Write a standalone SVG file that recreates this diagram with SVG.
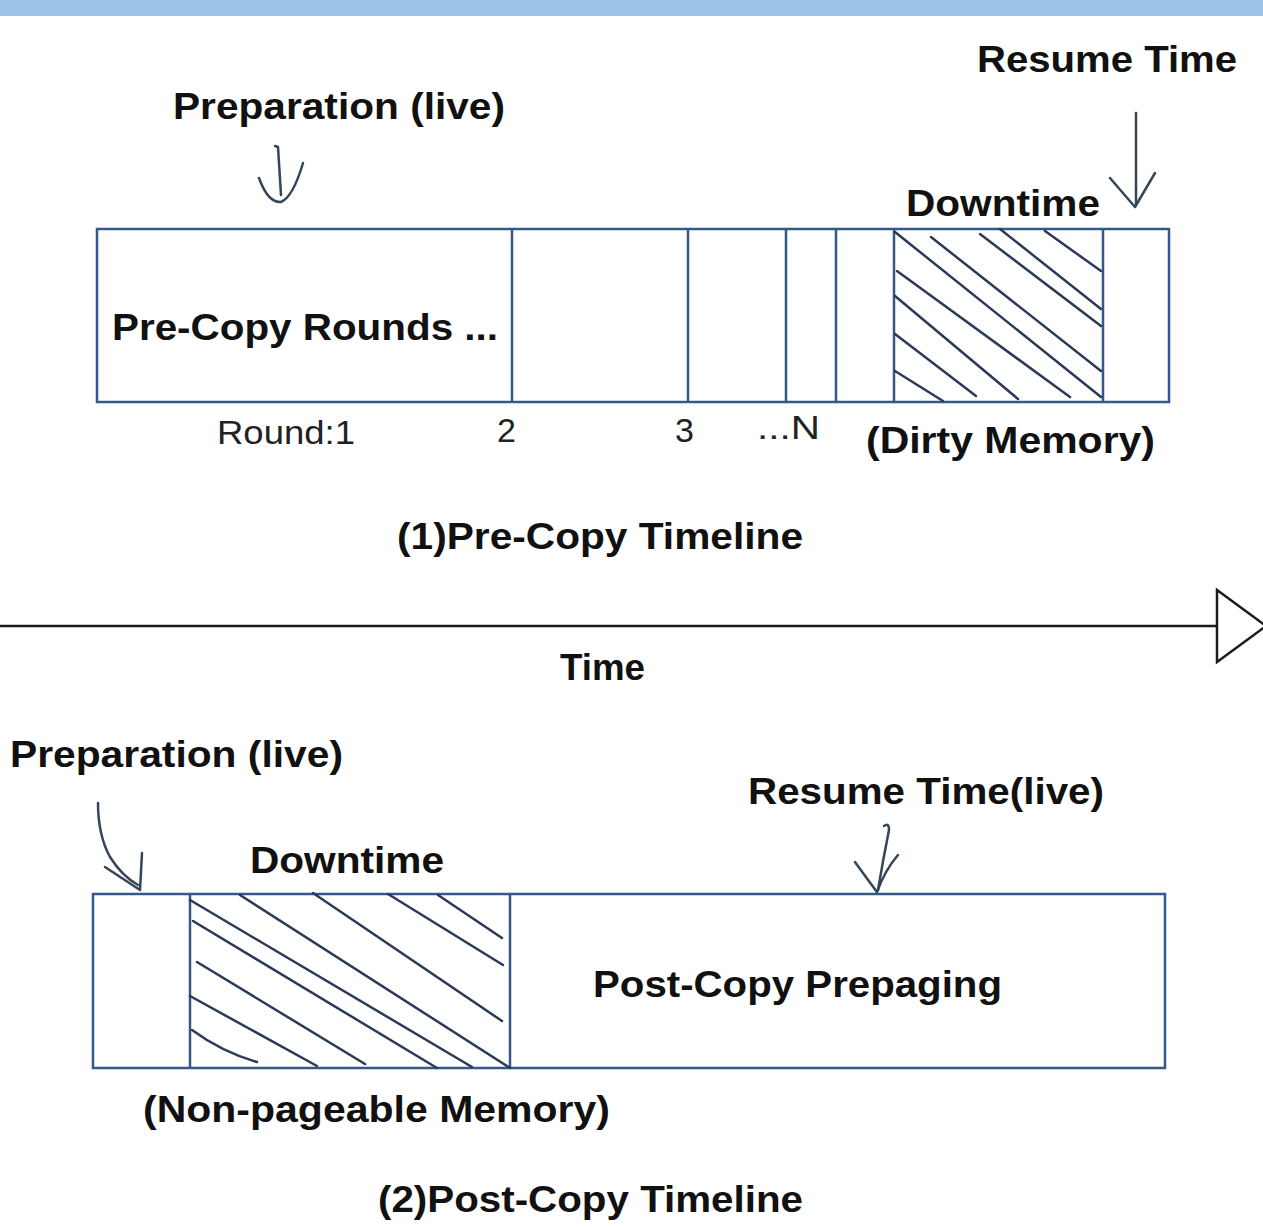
<svg xmlns="http://www.w3.org/2000/svg" width="1263" height="1228" viewBox="0 0 1263 1228">
  <style>
    .lbl { font-family: "Liberation Sans", Arial, sans-serif; font-weight: bold; font-size: 36px; fill: #111; }
    .num { font-family: "Liberation Sans", Arial, sans-serif; font-size: 34px; fill: #222; }
    .box { fill: #fff; stroke: #36578c; stroke-width: 2.5; }
    .div { stroke: #36578c; stroke-width: 2.5; fill: none; }
    .hatch { stroke: #2b3b57; stroke-width: 2.5; fill: none; stroke-linecap: round; }
    .pen { stroke: #35455a; stroke-width: 2.5; fill: none; stroke-linecap: round; stroke-linejoin: round; }
    .axis { stroke: #1c1c1c; stroke-width: 2.5; fill: none; }
  </style>

  <rect width="1263" height="1228" fill="#fff"/>
  <!-- header band -->
  <rect x="0" y="0" width="1263" height="16" fill="#9dc3e6"/>

  <!-- pre-copy timeline -->
  <g id="precopy-bar">
    <rect class="box" x="97" y="229" width="1072" height="173"/>
    <line class="div" x1="512" y1="229" x2="512" y2="402"/>
    <line class="div" x1="688" y1="229" x2="688" y2="402"/>
    <line class="div" x1="786" y1="229" x2="786" y2="402"/>
    <line class="div" x1="836" y1="229" x2="836" y2="402"/>
    <line class="div" x1="894" y1="229" x2="894" y2="402"/>
    <line class="div" x1="1103" y1="229" x2="1103" y2="402"/>
    <text class="lbl" x="112" y="340" textLength="386" lengthAdjust="spacingAndGlyphs">Pre-Copy Rounds ...</text>
  </g>

  <g id="precopy-downtime-hatch">
    <line class="hatch" x1="1045" y1="231" x2="1101" y2="271"/>
    <line class="hatch" x1="1000" y1="229" x2="1101" y2="309"/>
    <line class="hatch" x1="980" y1="234" x2="1101" y2="326"/>
    <line class="hatch" x1="931" y1="237" x2="1101" y2="371"/>
    <line class="hatch" x1="895" y1="232" x2="1101" y2="397"/>
    <line class="hatch" x1="897" y1="271" x2="1070" y2="397"/>
    <line class="hatch" x1="895" y1="296" x2="1018" y2="399"/>
    <line class="hatch" x1="895" y1="334" x2="976" y2="396"/>
    <line class="hatch" x1="895" y1="371" x2="943" y2="401"/>
  </g>

  <g id="precopy-labels">
    <text class="lbl" x="977" y="72" textLength="260" lengthAdjust="spacingAndGlyphs">Resume Time</text>
    <text class="lbl" x="173" y="119" textLength="332" lengthAdjust="spacingAndGlyphs">Preparation (live)</text>
    <text class="lbl" x="906" y="216" textLength="194" lengthAdjust="spacingAndGlyphs">Downtime</text>
    <text class="num" x="217" y="444" textLength="138" lengthAdjust="spacingAndGlyphs">Round:1</text>
    <text class="num" x="497" y="442">2</text>
    <text class="num" x="675" y="442">3</text>
    <text class="num" x="757" y="439" textLength="63" lengthAdjust="spacingAndGlyphs">...N</text>
    <text class="lbl" x="866" y="453" textLength="289" lengthAdjust="spacingAndGlyphs">(Dirty Memory)</text>
    <text class="lbl" x="397" y="549" textLength="406" lengthAdjust="spacingAndGlyphs">(1)Pre-Copy Timeline</text>
  </g>

  <!-- hand-drawn pointers -->
  <g id="connectors">
    <path class="pen" d="M275,146 L278,147 L281,195"/>
    <path class="pen" d="M259,178 Q268,203 281,202 Q293,197 303,163"/>
    <path class="pen" d="M1136,113 L1136,205"/>
    <path class="pen" d="M1110,178 L1135,207 L1155,173"/>
    <path class="pen" d="M98,803 Q98,835 110,857 Q122,876 138,885"/>
    <path class="pen" d="M105,867 L140,890 L142,853"/>
    <path class="pen" d="M884,826 Q889,822 889,830 Q883,860 878,890"/>
    <path class="pen" d="M855,862 Q868,880 877,892 Q885,870 898,855"/>
  </g>

  <!-- time axis -->
  <g id="time-axis">
    <line class="axis" x1="0" y1="626" x2="1217" y2="626"/>
    <polygon class="axis" fill="#fff" points="1217,590 1217,662 1266,626"/>
    <text class="lbl" x="560" y="680" textLength="85" lengthAdjust="spacingAndGlyphs">Time</text>
  </g>

  <!-- post-copy timeline -->
  <g id="postcopy-bar">
    <rect class="box" x="93" y="894" width="1072" height="174"/>
    <line class="div" x1="190" y1="894" x2="190" y2="1068"/>
    <line class="div" x1="510" y1="894" x2="510" y2="1068"/>
    <text class="lbl" x="593" y="997" textLength="409" lengthAdjust="spacingAndGlyphs">Post-Copy Prepaging</text>
  </g>

  <g id="postcopy-downtime-hatch">
    <line class="hatch" x1="438" y1="895" x2="502" y2="938"/>
    <line class="hatch" x1="388" y1="894" x2="503" y2="965"/>
    <line class="hatch" x1="313" y1="893" x2="502" y2="1021"/>
    <line class="hatch" x1="240" y1="895" x2="510" y2="1068"/>
    <line class="hatch" x1="190" y1="900" x2="472" y2="1067"/>
    <line class="hatch" x1="193" y1="921" x2="437" y2="1068"/>
    <line class="hatch" x1="197" y1="962" x2="365" y2="1064"/>
    <line class="hatch" x1="190" y1="996" x2="317" y2="1066"/>
    <path class="hatch" d="M192,1030 Q222,1052 257,1062"/>
  </g>

  <g id="postcopy-labels">
    <text class="lbl" x="10" y="767" textLength="333" lengthAdjust="spacingAndGlyphs">Preparation (live)</text>
    <text class="lbl" x="748" y="804" textLength="356" lengthAdjust="spacingAndGlyphs">Resume Time(live)</text>
    <text class="lbl" x="250" y="873" textLength="194" lengthAdjust="spacingAndGlyphs">Downtime</text>
    <text class="lbl" x="143" y="1122" textLength="467" lengthAdjust="spacingAndGlyphs">(Non-pageable Memory)</text>
    <text class="lbl" x="378" y="1212" textLength="425" lengthAdjust="spacingAndGlyphs">(2)Post-Copy Timeline</text>
  </g>
</svg>
